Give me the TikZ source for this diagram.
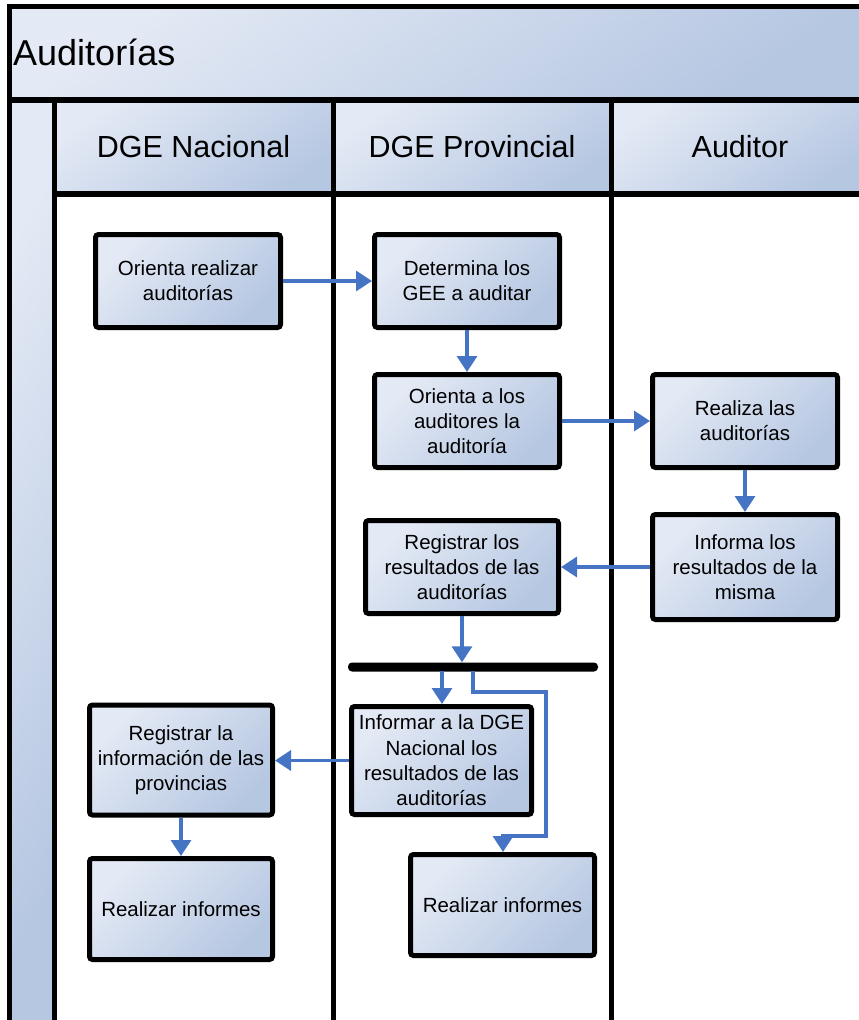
\documentclass[tikz,border=0pt]{standalone}
\usepackage{fontspec}
\setmainfont{Liberation Sans}
\usetikzlibrary{arrows.meta}
\definecolor{flowblue}{RGB}{70,116,196}
\definecolor{shadelight}{RGB}{228,234,245}
\definecolor{shadedark}{RGB}{182,199,226}
\begin{document}
\begin{tikzpicture}[x=1pt,y=-1pt,
  stepbox/.style={draw=black, line width=5pt, rounded corners=3pt,
    left color=shadelight, right color=shadedark, shading angle=45,
    inner sep=0pt, align=center, font=\fontsize{20.5}{25.3}\selectfont},
  panel/.style={left color=shadelight, right color=shadedark, shading angle=35},
  flow/.style={draw=flowblue, line width=3.3pt, -{Triangle[length=16pt,width=20pt]}},
  rule/.style={draw=black, line width=5pt},
  lanehead/.style={anchor=base, inner sep=0pt, font=\fontsize{30.5}{34}\selectfont}]
\useasboundingbox (0,0) rectangle (859,1020);

% pool background: title band, side strip and lane headers
\fill[panel] (9,6.5) rectangle (859,99.5);
\fill[left color=shadelight, right color=shadedark, shading angle=60] (9,99.5) rectangle (54.5,1020);
\fill[panel] (54.5,99.5) rectangle (333,194);
\fill[panel] (333,99.5) rectangle (611.5,194);
\fill[panel] (611.5,99.5) rectangle (859,194);

% frame and lane rules
\draw[rule, line join=miter] (9,1020) -- (9,6.5) -- (859,6.5);
\draw[rule, line width=6pt] (9,99.5) -- (859,99.5);
\draw[rule] (54.5,99.5) -- (54.5,1020);
\draw[rule, line width=6pt] (54.5,194) -- (859,194);
\draw[rule] (333,99.5) -- (333,1020);
\draw[rule] (611.5,99.5) -- (611.5,1020);

% titles
\node[anchor=base west, inner sep=0pt, font=\fontsize{36}{40}\selectfont] (title) at (13,65) {Auditorías};
\node[lanehead] (h1) at (193.5,157) {DGE Nacional};
\node[lanehead] (h2) at (472,157) {DGE Provincial};
\node[lanehead] (h3) at (740,157) {Auditor};

% activities
\node[stepbox, minimum width=185pt, minimum height=93pt] (b1) at (188,281) {Orienta realizar\\auditorías};
\node[stepbox, minimum width=185pt, minimum height=93pt] (b2) at (467,281) {Determina los\\GEE a auditar};
\node[stepbox, minimum width=185pt, minimum height=93pt] (b3) at (467,421) {Orienta a los\\auditores la\\auditoría};
\node[stepbox, minimum width=185pt, minimum height=93pt] (b4) at (745,421) {Realiza las\\auditorías};
\node[stepbox, minimum width=185pt, minimum height=105pt] (b5) at (745,567) {Informa los\\resultados de la\\misma};
\node[stepbox, minimum width=193pt, minimum height=93pt] (b6) at (462,567) {Registrar los\\resultados de las\\auditorías};
\node[fill=black, rounded corners=4pt, inner sep=0pt, minimum width=250pt, minimum height=9pt] (bar) at (473,667) {};
\node[stepbox, minimum width=180pt, minimum height=108pt] (b8) at (441.5,760.5) {Informar a la DGE\\Nacional los\\resultados de las\\auditorías};
\node[stepbox, minimum width=183pt, minimum height=110pt] (b9) at (181,760) {Registrar la\\información de las\\provincias};
\node[stepbox, minimum width=183pt, minimum height=101pt] (b10) at (181,909) {Realizar informes};
\node[stepbox, minimum width=184pt, minimum height=101pt] (b11) at (502.5,905) {Realizar informes};

% flow
\draw[flow] (b1.east) -- (b2.west);
\draw[flow] (b2.south) -- (b3.north);
\draw[flow] (b3.east) -- (b4.west);
\draw[flow] (b4.south) -- (b5.north);
\draw[flow] (b5.west) -- (b6.east);
\draw[flow] (b6.south) -- (b6.south |- bar.north);
\coordinate (s1) at (442,671);
\coordinate (s2) at (473,671);
\draw[flow] (s1) -- (s1 |- b8.north);
\draw[flow] (s2) -- (473,692) -- (546,692) -- (546,836) -- (503,836) -- (503,0 |- b11.north);
\draw[flow] (b8.west) -- (b8.west -| b9.east);
\draw[flow] (b9.south) -- (b10.north);
\end{tikzpicture}
\end{document}
